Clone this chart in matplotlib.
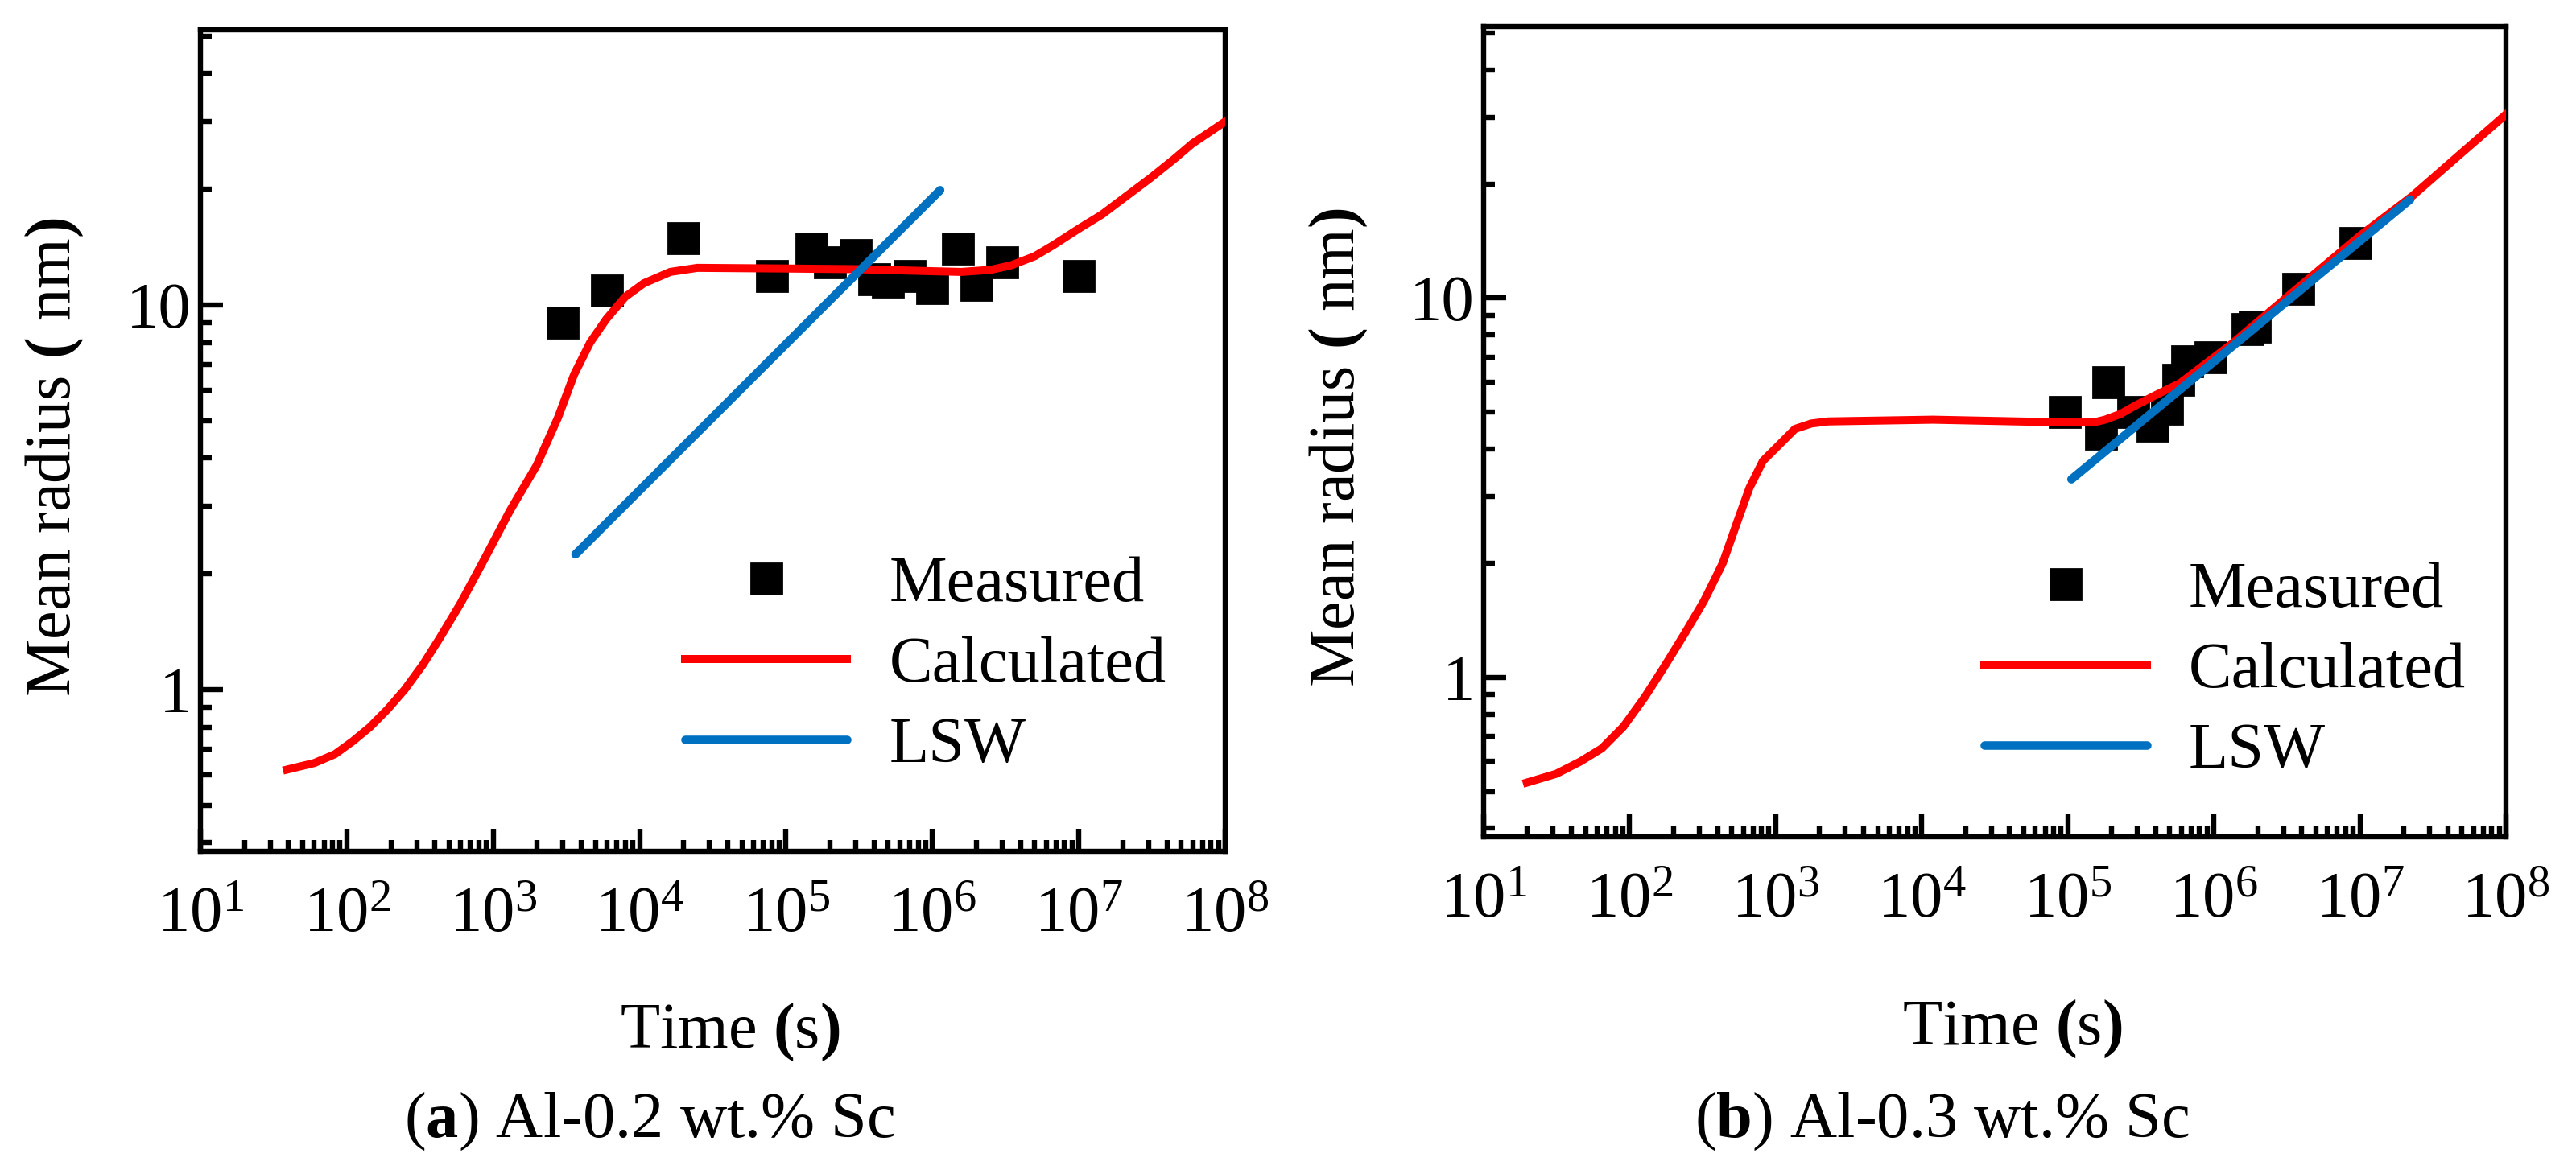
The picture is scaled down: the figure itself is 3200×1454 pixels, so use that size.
import matplotlib
matplotlib.use("Agg")
import matplotlib.pyplot as plt
from matplotlib.ticker import LogLocator, FixedLocator, FixedFormatter, NullFormatter

plt.rcParams['font.family'] = ['Liberation Serif', 'DejaVu Serif']
plt.rcParams['mathtext.fontset'] = 'custom'
plt.rcParams['mathtext.rm'] = 'Liberation Serif'
plt.rcParams['mathtext.it'] = 'Liberation Serif:italic'
plt.rcParams['mathtext.bf'] = 'Liberation Serif:bold'

# ---------------- (a) Al-0.2 wt.% Sc ----------------
a_meas_t = [3.0e3, 6.0e3, 2.0e4, 8.0e4, 1.5e5, 2.0e5, 3.0e5, 4.0e5, 5.0e5, 7.0e5, 1.0e6, 1.5e6, 2.0e6, 3.0e6, 1.0e7]
a_meas_r = [9.0, 10.9, 14.9, 11.9, 14.0, 12.9, 13.5, 11.7, 11.5, 11.9, 11.1, 14.0, 11.3, 12.9, 11.9]

a_calc_t = [39, 60, 83, 110, 144, 190, 248, 330, 430, 600, 851, 1300, 1980, 2770, 3570,
            4600, 5930, 7960, 10700, 16200, 24800, 1.0e5, 3.09e5, 1.0e6, 1.58e6, 2.5e6,
            3.47e6, 5.0e6, 6.67e6, 1.0e7, 1.44e7, 2.0e7, 3.09e7, 4.5e7, 5.97e7, 1.0e8]
a_calc_r = [0.62, 0.645, 0.68, 0.735, 0.80, 0.89, 1.0, 1.16, 1.36, 1.68, 2.15, 2.92, 3.83, 5.1, 6.6,
            8.0, 9.2, 10.5, 11.4, 12.2, 12.5, 12.45, 12.4, 12.25, 12.2, 12.35,
            12.7, 13.4, 14.3, 15.8, 17.2, 18.9, 21.4, 24.0, 26.3, 30.0]

a_lsw_t = [3.65e3, 1.13e6]
a_lsw_r = [2.25, 19.9]

# ---------------- (b) Al-0.3 wt.% Sc ----------------
b_meas_t = [9.6e4, 1.9e5, 1.7e5, 2.8e5, 3.8e5, 4.8e5, 5.7e5, 6.6e5, 9.5e5, 1.7e6, 1.9e6, 3.8e6, 9.3e6]
b_meas_r = [5.0, 6.0, 4.4, 5.0, 4.6, 5.1, 6.1, 6.8, 7.0, 8.3, 8.4, 10.6, 14.0]

b_calc_t = [19.8, 31.5, 46, 64.6, 90.6, 127, 171, 240, 323, 434, 536, 662, 818, 1054, 1358,
            1754, 2290, 11940, 1.0e5, 1.5e5, 1.8e5, 2.3e5, 2.88e5, 4.0e5, 5.89e5, 1.34e6,
            3.45e6, 1.0e7, 2.29e7, 4.65e7, 1.0e8]
b_calc_r = [0.528, 0.557, 0.600, 0.65, 0.741, 0.887, 1.06, 1.31, 1.59, 2.0, 2.52, 3.16, 3.72, 4.10, 4.52,
            4.67, 4.73, 4.78, 4.70, 4.70, 4.78, 4.95, 5.20, 5.55, 5.97, 7.60,
            10.35, 14.6, 18.6, 23.6, 30.5]

b_lsw_t = [1.06e5, 2.21e7]
b_lsw_r = [3.33, 18.2]

RED = "#FF0000"
BLUE = "#0070C0"
FS = 29

fig = plt.figure(figsize=(16, 7.27), dpi=200)
ax1 = fig.add_axes([0.0778, 0.2723, 0.3978, 0.7023])
ax2 = fig.add_axes([0.5759, 0.2848, 0.3969, 0.6925])


def style_axis(ax, xlab_y):
    ax.set_xscale("log")
    ax.set_yscale("log")
    ax.set_xlim(10, 1e8)
    ax.set_ylim(0.38, 52)
    ax.xaxis.set_major_locator(LogLocator(base=10, numticks=20))
    ax.xaxis.set_minor_locator(LogLocator(base=10, subs=range(2, 10), numticks=20))
    ax.xaxis.set_minor_formatter(NullFormatter())
    ax.yaxis.set_major_locator(FixedLocator([1, 10]))
    ax.yaxis.set_major_formatter(FixedFormatter(["1", "10"]))
    ax.yaxis.set_minor_locator(LogLocator(base=10, subs=range(2, 10), numticks=20))
    ax.yaxis.set_minor_formatter(NullFormatter())
    ax.tick_params(which="both", direction="in", top=False, right=False, labelsize=FS, width=2.3)
    ax.tick_params(which="major", length=10)
    ax.tick_params(which="minor", length=5)
    ax.tick_params(axis="x", pad=16)
    ax.tick_params(axis="y", pad=4)
    for s in ax.spines.values():
        s.set_linewidth(2.3)
    ax.set_xlabel(r"Time $\mathbf{(}$s$\mathbf{)}$", fontsize=FS, va="baseline")
    ax.xaxis.set_label_coords(0.517, xlab_y)
    ax.set_ylabel(r"Mean radius $\mathbf{(}$ nm$\mathbf{)}$", fontsize=FS, va="baseline")
    ax.yaxis.set_label_coords(-0.127, 0.48)


def draw_panel(ax, mt, mr, ct, cr, lt, lr, anchor, xlab_y):
    ax.plot(mt, mr, "s", color="black", markersize=14, linestyle="none", label="Measured", zorder=3)
    ax.plot(ct, cr, color=RED, linewidth=3.6, label="Calculated", zorder=4)
    ax.plot(lt, lr, color=BLUE, linewidth=3.8, solid_capstyle="round", label="LSW", zorder=5)
    style_axis(ax, xlab_y)
    ax.legend(loc="upper left", bbox_to_anchor=anchor, frameon=False, fontsize=FS,
              handlelength=2.5, handletextpad=0.65, labelspacing=0.33,
              borderpad=0, borderaxespad=0)


draw_panel(ax1, a_meas_t, a_meas_r, a_calc_t, a_calc_r, a_lsw_t, a_lsw_r, (0.473, 0.36), -0.239)
draw_panel(ax2, b_meas_t, b_meas_r, b_calc_t, b_calc_r, b_lsw_t, b_lsw_r, (0.49, 0.34), -0.256)

fig.text(0.1569, 0.0282, r"($\mathbf{a}$) Al-0.2 wt.% Sc", ha="left", va="baseline", fontsize=FS)
fig.text(0.6578, 0.0282, r"($\mathbf{b}$) Al-0.3 wt.% Sc", ha="left", va="baseline", fontsize=FS)

fig.savefig("out.png", dpi=200)
